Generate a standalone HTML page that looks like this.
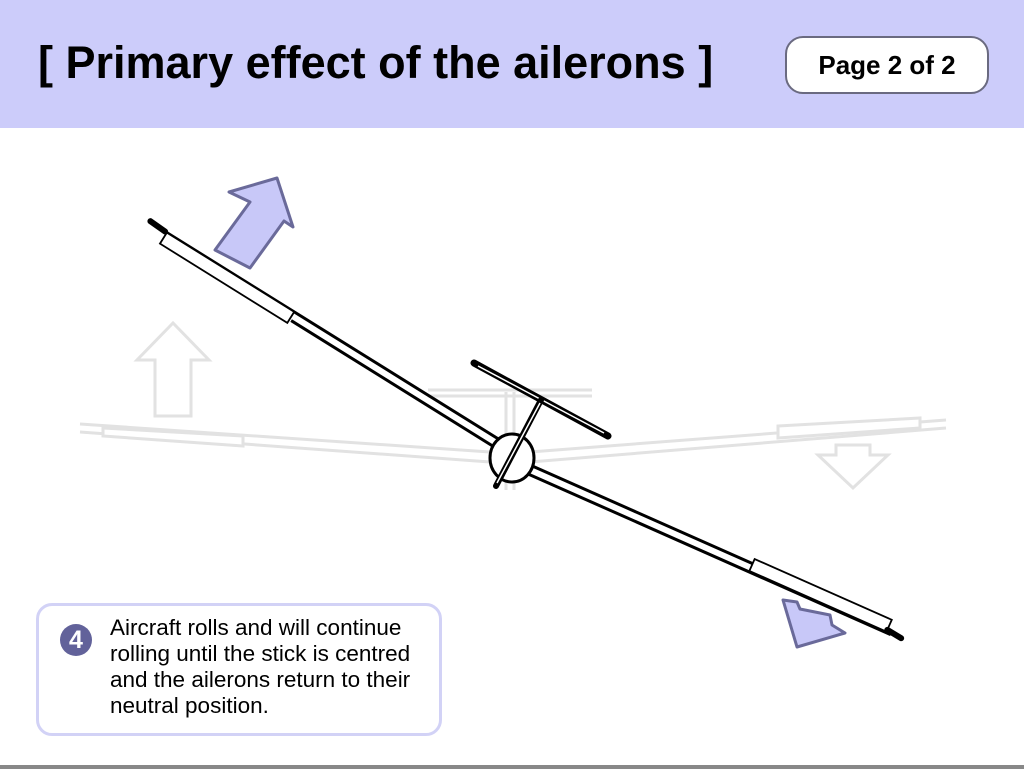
<!DOCTYPE html>
<html><head><meta charset="utf-8"><style>
body{margin:0;width:1024px;height:769px;overflow:hidden;background:#fff;font-family:"Liberation Sans",sans-serif;position:relative}
.hdr{position:absolute;left:0;top:0;width:1024px;height:128px;background:#ccccfa}
.title{position:absolute;left:38px;top:37px;font-size:45px;font-weight:bold;color:#000;white-space:nowrap}
.page{position:absolute;left:785px;top:36px;width:200px;height:54px;border:2.5px solid #6a6a80;border-radius:18px;background:#fff;font-weight:bold;font-size:26px;text-align:center;line-height:54px}
.box{position:absolute;left:36px;top:603px;width:400px;height:127px;border:3px solid #d2d2f6;border-radius:16px;background:#fff}
.num{position:absolute;left:60px;top:624px;width:32px;height:32px;border-radius:50%;background:#62629a;color:#fff;font-weight:bold;font-size:25px;text-align:center;line-height:32px}
.txt{position:absolute;left:110px;top:615px;font-size:22.5px;line-height:26px;color:#000}
.line{position:absolute;left:0;top:765px;width:1024px;height:4px;background:#888}
</style></head><body>
<div class="hdr"></div>
<div class="title">[ Primary effect of the ailerons ]</div>
<div class="page">Page 2 of 2</div>
<svg width="1024" height="769" style="position:absolute;left:0;top:0">
 <g fill="none" stroke="#e2e2e2" stroke-width="3">
  <polygon points="155,416 191,416 191,360 209,360 173,323 137,360 155,360"/>
  <polygon points="836,445 870,445 870,455 888,455 853,488 818,455 836,455"/>
  <path d="M80,424 L490,452 M80,432 L490,462 M530,452 L946,420 M530,462 L946,428"/>
  <polygon points="103,428 243,436 243,446 103,436" fill="#fff"/>
  <polygon points="778,426 920,418 920,428 778,438" fill="#fff"/>
  <path d="M428,390 L592,390 M428,396 L592,396 M506,392 L506,490 M514,392 L514,490"/>
 </g>
 <g fill="#c8c8f8" stroke="#6a6a9a" stroke-width="3" stroke-linejoin="round">
  <polygon points="277,178 293,227 284,221 250,268 215,250 250,202 229,192"/>
  <polygon points="783,600 797,602 800,609 830,615 832,625 845,633 797,647"/>
 </g>
 <g transform="translate(497,444) rotate(31.9)">
  <g stroke="#000" stroke-width="3" fill="none">
   <line x1="-400" y1="-5" x2="0" y2="-5"/><line x1="-240" y1="4" x2="0" y2="4"/>
  </g>
  <rect x="-392" y="-5" width="150" height="13" stroke="#000" stroke-width="1.8" fill="#fff"/>
  <path d="M-412,-6 L-394,-5" stroke="#000" stroke-width="6" stroke-linecap="round"/>
 </g>
 <g transform="translate(527,468) rotate(23.9)">
  <g stroke="#000" stroke-width="3" fill="none">
   <line x1="0" y1="-4" x2="245" y2="-4"/><line x1="0" y1="5" x2="400" y2="5"/>
  </g>
  <rect x="245" y="-9" width="150" height="13" stroke="#000" stroke-width="1.8" fill="#fff"/>
  <path d="M395,2 L411,4" stroke="#000" stroke-width="6" stroke-linecap="round"/>
 </g>
 <path d="M474,363 L608,436" stroke="#000" stroke-width="7" stroke-linecap="round"/>
 <path d="M478,366 L604,433" stroke="#fff" stroke-width="1.5"/>
 <ellipse cx="512" cy="458" rx="22" ry="24" fill="#fff" stroke="#000" stroke-width="3"/>
 <path d="M541,400 L496,486" stroke="#000" stroke-width="6" stroke-linecap="round"/>
 <path d="M540,403 L497,483" stroke="#fff" stroke-width="1.5"/>
</svg>
<div class="box"></div>
<div class="num">4</div>
<div class="txt">Aircraft rolls and will continue<br>rolling until the stick is centred<br>and the ailerons return to their<br>neutral position.</div>
<div class="line"></div>
</body></html>
